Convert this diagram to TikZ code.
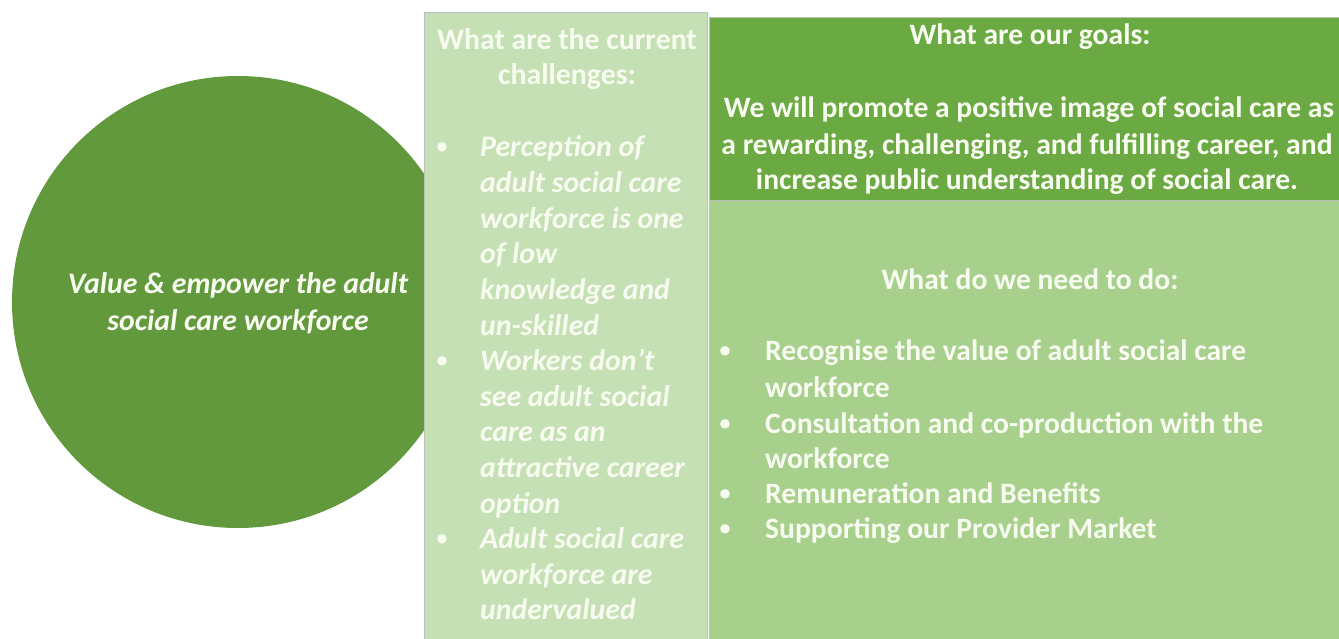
\documentclass[tikz,border=0pt]{standalone}
\usepackage{fontspec}
\setmainfont{Carlito}
\definecolor{circfill}{RGB}{98,153,60}
\definecolor{colfill}{RGB}{197,224,180}
\definecolor{goalfill}{RGB}{107,169,67}
\definecolor{needfill}{RGB}{168,208,141}
\definecolor{txt}{RGB}{248,252,240}
\definecolor{edgegray}{RGB}{188,194,184}
\tikzset{
  ctext/.style={text=txt, inner sep=0pt, font=\bfseries\itshape\fontsize{29.8}{37}\selectfont},
  mhead/.style={text=txt, inner sep=0pt, font=\bfseries\fontsize{29.8}{35}\selectfont},
  mitem/.style={text=txt, inner sep=0pt, anchor=base west, font=\bfseries\itshape\fontsize{29.8}{35}\selectfont},
  rtext/.style={text=txt, inner sep=0pt, font=\bfseries\fontsize{29.6}{36}\selectfont},
  ritem/.style={text=txt, inner sep=0pt, anchor=base west, font=\bfseries\fontsize{29.6}{36}\selectfont},
  bul/.style={text=txt, inner sep=0pt, anchor=base, font=\bfseries\fontsize{22}{30}\selectfont},
}
\begin{document}
\begin{tikzpicture}[x=1pt,y=-1pt]
\useasboundingbox (0,0) rectangle (1339,639);
% circle
\node[circle, fill=circfill, minimum size=452pt, inner sep=0pt] (goal) at (238,302) {};
% middle column
\node[rectangle, fill=colfill, draw=edgegray, line width=1pt, minimum width=283pt, minimum height=640pt, anchor=north west, inner sep=0pt] (chal) at (424,12) {};
% right boxes
\node[rectangle, fill=goalfill, draw=edgegray, line width=0.8pt, minimum width=640pt, minimum height=183pt, anchor=north west, inner sep=0pt] (goals) at (709,17) {};
\node[rectangle, fill=needfill, draw=edgegray, line width=0.8pt, minimum width=640pt, minimum height=445pt, anchor=north west, inner sep=0pt] (need) at (709,200) {};

% circle text
\node[ctext, anchor=base] (c1) at (238,293) {Value \& empower the adult};
\node[ctext, anchor=base] (c2) at (238,330) {social care workforce};

% middle header
\node[mhead, anchor=base] (m1) at (567,50) {What are the current};
\node[mhead, anchor=base] (m2) at (567,85) {challenges:};

% middle list
\foreach \t [count=\i from 0] in {Perception of, adult social care, workforce is one, of low, knowledge and, un-skilled, Workers don’t, see adult social, care as an, attractive career, option, Adult social care, workforce are, undervalued}{
  \node[mitem] (ml\i) at (480,157+35.6*\i) {\t};
}
\node[bul] (mb1) at (442,154) {•};
\node[bul] (mb2) at (442,154+35.6*6) {•};
\node[bul] (mb3) at (442,154+35.6*11) {•};

% goals text
\node[rtext, anchor=base] (g0) at (1030,45) {What are our goals:};
\node[rtext, anchor=base] (g1) at (1029,118) {We will promote a positive image of social care as};
\node[rtext, anchor=base] (g2) at (1027,155) {a rewarding, challenging, and fulfilling career, and};
\node[rtext, anchor=base] (g3) at (1027,190) {increase public understanding of social care.};

% need text
\node[rtext, anchor=base] (n0) at (1030,290) {What do we need to do:};
\foreach \t/\y [count=\i] in {Recognise the value of adult social care/360, workforce/397, Consultation and co-production with the/433, workforce/468, Remuneration and Benefits/503, Supporting our Provider Market/538}{
  \node[ritem] (nl\i) at (765,\y) {\t};
}
\node[bul] (nb1) at (725,357) {•};
\node[bul] (nb2) at (725,430) {•};
\node[bul] (nb3) at (725,500) {•};
\node[bul] (nb4) at (725,535) {•};
\end{tikzpicture}
\end{document}
